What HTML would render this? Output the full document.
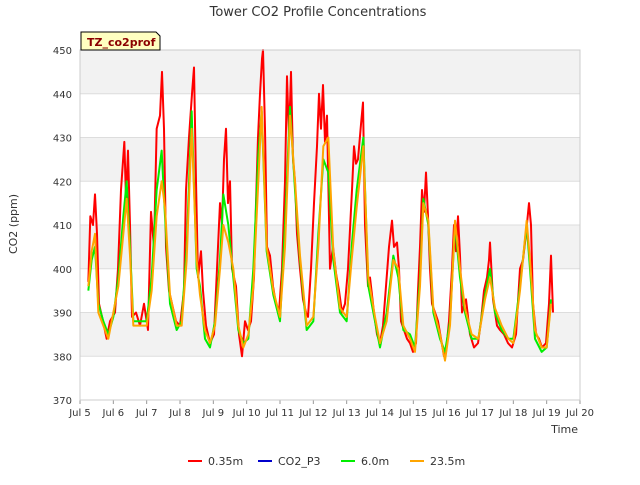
<!DOCTYPE html>
<html><head><meta charset="utf-8"><style>
body{margin:0;background:#fff;font-family:"Liberation Sans","DejaVu Sans",sans-serif}
svg text{font-family:"DejaVu Sans","Liberation Sans",sans-serif}
</style></head><body>
<svg id="chart" width="640" height="480" xmlns="http://www.w3.org/2000/svg">
<text x="318" y="16" text-anchor="middle" font-size="13" fill="#333">Tower CO2 Profile Concentrations</text>
<g id="bands"></g><g id="grid"></g><g id="series"></g><g id="axes"></g>
<rect x="80" y="50" width="500" height="350" fill="none" stroke="#ccc"/>
<g><path d="M81,32 H156 L160,36 V50 H81 Z" fill="#ffffc0" stroke="#000"/>
<text x="87" y="46" font-size="11" font-weight="bold" fill="#8b0000">TZ_co2prof</text></g>
<text transform="translate(17,224) rotate(-90)" text-anchor="middle" font-size="11" fill="#333">CO2 (ppm)</text>
<text x="578" y="433" text-anchor="end" font-size="11" fill="#333">Time</text>
<g id="legend"></g>
</svg>
<script>
const yTicks=[370,380,390,400,410,420,430,440,450];
const xTickLabels=["Jul 5","Jul 6","Jul 7","Jul 8","Jul 9","Jul 10","Jul 11","Jul 12","Jul 13","Jul 14","Jul 15","Jul 16","Jul 17","Jul 18","Jul 19","Jul 20"];
const redT=[5.25,5.31,5.39,5.45,5.51,5.57,5.69,5.8,5.9,6.05,6.14,6.23,6.33,6.38,6.44,6.5,6.56,6.68,6.8,6.92,7.04,7.13,7.22,7.3,7.4,7.46,7.52,7.58,7.67,7.76,7.88,8.0,8.12,8.18,8.27,8.36,8.42,8.48,8.54,8.63,8.69,8.78,8.9,9.02,9.11,9.2,9.26,9.32,9.38,9.44,9.5,9.56,9.68,9.77,9.86,9.95,10.04,10.13,10.22,10.28,10.34,10.4,10.46,10.49,10.55,10.61,10.7,10.79,10.88,10.97,11.06,11.15,11.21,11.27,11.33,11.39,11.45,11.51,11.6,11.69,11.78,11.84,11.93,12.02,12.11,12.17,12.23,12.29,12.35,12.41,12.5,12.59,12.68,12.77,12.86,12.95,13.04,13.16,13.22,13.28,13.34,13.43,13.49,13.55,13.64,13.7,13.82,13.91,14.0,14.09,14.18,14.27,14.36,14.42,14.51,14.57,14.63,14.72,14.81,14.9,14.99,15.08,15.14,15.2,15.26,15.32,15.38,15.44,15.5,15.56,15.65,15.74,15.83,15.92,15.98,16.07,16.16,16.22,16.28,16.34,16.4,16.46,16.58,16.7,16.82,16.94,17.03,17.12,17.21,17.27,17.3,17.39,17.51,17.6,17.72,17.84,17.96,18.08,18.2,18.29,18.38,18.47,18.53,18.59,18.68,18.77,18.86,18.98,19.07,19.13,19.19];
const redV=[397,412,410,417,408,392,388,384,388,390,400,418,429,416,427,410,389,390,387,392,386,413,405,432,435,445,432,405,395,392,388,387,395,418,430,440,446,420,398,404,395,387,383,385,400,415,410,425,432,415,420,400,396,385,380,388,386,388,398,415,430,440,448,450,432,405,403,396,392,390,400,420,444,430,445,425,420,408,400,393,390,389,400,415,428,440,432,442,429,435,400,405,399,395,390,392,400,418,428,424,425,433,438,410,396,398,390,385,383,387,396,405,411,405,406,400,388,386,384,383,381,383,395,405,418,413,422,412,400,392,390,388,384,380,381,388,400,410,404,412,403,390,393,385,382,383,388,395,398,402,406,393,387,386,385,383,382,385,400,402,408,415,410,392,385,384,382,383,392,403,390];
const lowT=[5.25,5.35,5.45,5.55,5.7,5.85,6.0,6.15,6.3,6.4,6.5,6.6,6.8,7.0,7.15,7.3,7.45,7.55,7.7,7.9,8.05,8.2,8.35,8.5,8.6,8.75,8.9,9.05,9.2,9.3,9.45,9.6,9.75,9.9,10.05,10.2,10.35,10.45,10.6,10.8,11.0,11.15,11.3,11.45,11.6,11.8,12.0,12.15,12.3,12.45,12.6,12.8,13.0,13.15,13.3,13.5,13.65,13.85,14.0,14.2,14.4,14.55,14.7,14.9,15.05,15.2,15.3,15.45,15.6,15.8,15.95,16.1,16.25,16.4,16.55,16.75,16.95,17.15,17.3,17.45,17.65,17.85,18.0,18.2,18.4,18.5,18.65,18.85,19.0,19.13];
const greenV=[395,402,405,392,388,385,389,398,412,420,405,388,388,388,398,418,427,412,392,386,388,405,436,400,396,384,382,388,402,417,410,398,386,383,384,400,426,436,404,394,388,410,437,418,402,386,388,408,425,422,402,390,388,405,418,430,396,388,382,390,403,398,386,385,382,398,416,410,390,384,381,388,410,398,390,384,384,394,400,390,386,384,384,396,410,400,384,381,382,393];
const orangeV=[396,404,408,390,387,384,390,396,408,416,403,387,387,387,395,412,420,414,394,387,387,402,432,402,394,386,383,387,400,410,406,400,387,382,385,396,420,437,405,395,389,405,435,420,403,387,389,405,428,430,404,391,389,402,414,428,398,389,383,388,402,400,387,384,381,396,415,411,391,385,379,387,411,400,391,385,384,393,398,391,387,384,383,395,411,402,386,382,382,392];
const blueV=[];
const X0=80,X1=580,Y0=400,Y1=50;
function xs(d){return X0+(d-5)/15*(X1-X0);}
function ys(v){return Y0-(v-370)/80*(Y0-Y1);}
const NS="http://www.w3.org/2000/svg";
function mk(tag,attrs,parent){const e=document.createElementNS(NS,tag);for(const k in attrs)e.setAttribute(k,attrs[k]);parent.appendChild(e);return e;}
const bands=document.getElementById('bands'),grid=document.getElementById('grid'),axes=document.getElementById('axes'),series=document.getElementById('series'),legend=document.getElementById('legend');
[380,400,420,440].forEach(v=>{const r=mk('rect',{x:X0,y:ys(v+10),width:X1-X0,height:ys(v)-ys(v+10),fill:'#f2f2f2'},bands);

});
yTicks.forEach(v=>{const l=mk('line',{x1:X0,x2:X1,y1:ys(v),y2:ys(v),stroke:'#ddd'},grid);


const t=mk('text',{x:X0-8,y:ys(v)+4,'text-anchor':'end','font-size':'10',fill:'#333'},axes);t.textContent=v;

});
xTickLabels.forEach((s,i)=>{const x=xs(5+i);mk('line',{x1:x,x2:x,y1:Y0,y2:Y0+4,stroke:'#999'},axes);
const t=mk('text',{x:x,y:Y0+16,'text-anchor':'middle','font-size':'10',fill:'#333'},axes);t.textContent=s;

});
function line(T,V,color,name){if(!V.length)return;const p=mk('polyline',{points:V.map((v,i)=>xs(T[i])+','+ys(v)).join(' '),fill:'none',stroke:color,'stroke-width':'2','stroke-linejoin':'round'},series);

}
line(redT,redV,'#ff0000','series-0-35m');
line(lowT,blueV,'#0000cc','series-co2-p3');
line(lowT,greenV,'#00ee00','series-6-0m');
line(lowT,orangeV,'#ffa500','series-23-5m');
[["0.35m","#ff0000",188],["CO2_P3","#0000cc",258],["6.0m","#00ee00",341],["23.5m","#ffa500",410]].forEach(([n,c,x])=>{
const g=mk('g',{},legend);


mk('line',{x1:x,x2:x+14,y1:461,y2:461,stroke:c,'stroke-width':'2'},g);
const t=mk('text',{x:x+20,y:465,'font-size':'11',fill:'#333'},g);t.textContent=n;});
</script>
</body></html>
